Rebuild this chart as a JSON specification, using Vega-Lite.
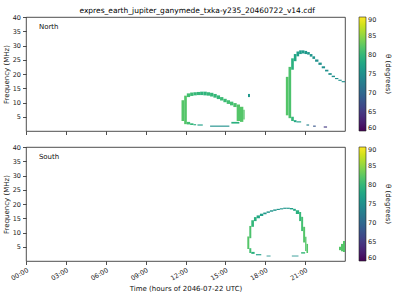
{
  "$schema": "https://vega.github.io/schema/vega-lite/v6.json",
  "padding": {"left": 1, "top": 7, "right": 0, "bottom": 0},
  "title": {"text": "expres_earth_jupiter_ganymede_txka-y235_20460722_v14.cdf", "fontSize": 7.5, "fontWeight": "normal", "font": "DejaVu Sans", "color": "#000", "offset": -1, "anchor": "middle"},
  "config": {
    "font": "DejaVu Sans",
    "view": {"stroke": "#222", "strokeWidth": 0.8},
    "axis": {"grid": false, "domain": false, "tickColor": "#222", "tickSize": 3.5, "tickWidth": 0.8, "labelFontSize": 6.5, "titleFontSize": 7, "labelColor": "#222", "titleColor": "#111", "titleFontWeight": "normal", "labelPadding": 2, "titlePadding": 3, "labelOverlap": false, "labelFlush": false, "labelBound": false},
    "legend": {"gradientLength": 114, "gradientThickness": 7, "labelFontSize": 6.5, "labelColor": "#222", "titleFontSize": 7, "titleFontWeight": "normal", "titleColor": "#111", "offset": 14, "titleOrient": "right", "titleAngle": 270, "titleAnchor": "middle", "titleBaseline": "bottom", "gradientStrokeColor": "#222", "gradientStrokeWidth": 0.6, "labelOverlap": false, "padding": 0, "titlePadding": 9}
  },
  "data": {"values": [
    {"p":"N","t1":11.7,"t2":11.9,"f1":3.5,"f2":10.8,"th":82},
    {"p":"N","t1":11.9,"t2":12.1,"f1":2.4,"f2":12.4,"th":82},
    {"p":"N","t1":12.1,"t2":12.35,"f1":11.9,"f2":13.2,"th":81},
    {"p":"N","t1":12.1,"t2":12.35,"f1":2.3,"f2":3.2,"th":81},
    {"p":"N","t1":12.35,"t2":12.6,"f1":12.3,"f2":13.5,"th":80.5},
    {"p":"N","t1":12.35,"t2":12.6,"f1":2.1,"f2":2.7,"th":80},
    {"p":"N","t1":12.6,"t2":12.85,"f1":12.5,"f2":13.6,"th":80},
    {"p":"N","t1":12.6,"t2":12.8,"f1":2.0,"f2":2.4,"th":79},
    {"p":"N","t1":12.85,"t2":13.1,"f1":12.6,"f2":13.7,"th":80},
    {"p":"N","t1":12.9,"t2":13.3,"f1":1.9,"f2":2.3,"th":77},
    {"p":"N","t1":13.1,"t2":13.35,"f1":12.6,"f2":13.8,"th":79.5},
    {"p":"N","t1":13.35,"t2":13.6,"f1":12.5,"f2":13.8,"th":79.5},
    {"p":"N","t1":13.6,"t2":13.85,"f1":12.4,"f2":13.6,"th":80},
    {"p":"N","t1":13.85,"t2":14.1,"f1":12.1,"f2":13.4,"th":80},
    {"p":"N","t1":13.85,"t2":15.3,"f1":1.5,"f2":1.9,"th":75},
    {"p":"N","t1":14.1,"t2":14.35,"f1":11.7,"f2":13.0,"th":80},
    {"p":"N","t1":14.35,"t2":14.6,"f1":11.2,"f2":12.5,"th":80},
    {"p":"N","t1":14.6,"t2":14.85,"f1":10.7,"f2":11.9,"th":80.5},
    {"p":"N","t1":14.85,"t2":15.1,"f1":10.1,"f2":11.3,"th":80.5},
    {"p":"N","t1":15.1,"t2":15.35,"f1":9.5,"f2":10.8,"th":81},
    {"p":"N","t1":15.35,"t2":15.6,"f1":9.0,"f2":10.3,"th":81},
    {"p":"N","t1":15.45,"t2":16.05,"f1":2.6,"f2":3.2,"th":79},
    {"p":"N","t1":15.6,"t2":15.85,"f1":8.4,"f2":9.8,"th":81.5},
    {"p":"N","t1":15.85,"t2":16.1,"f1":3.5,"f2":9.3,"th":82},
    {"p":"N","t1":16.1,"t2":16.35,"f1":3.2,"f2":8.5,"th":82},
    {"p":"N","t1":16.35,"t2":16.45,"f1":4.0,"f2":7.5,"th":82},
    {"p":"N","t1":16.7,"t2":16.85,"f1":11.9,"f2":13.0,"th":76},
    {"p":"N","t1":19.55,"t2":19.75,"f1":5.5,"f2":19.0,"th":82},
    {"p":"N","t1":19.75,"t2":19.95,"f1":4.5,"f2":22.5,"th":81.5},
    {"p":"N","t1":19.95,"t2":20.15,"f1":21.5,"f2":25.5,"th":79},
    {"p":"N","t1":19.95,"t2":20.15,"f1":3.5,"f2":5.0,"th":80},
    {"p":"N","t1":20.15,"t2":20.35,"f1":24.5,"f2":27.0,"th":78},
    {"p":"N","t1":20.15,"t2":20.35,"f1":3.1,"f2":3.8,"th":78},
    {"p":"N","t1":20.35,"t2":20.55,"f1":26.2,"f2":27.9,"th":77},
    {"p":"N","t1":20.35,"t2":20.7,"f1":3.0,"f2":3.4,"th":77},
    {"p":"N","t1":20.55,"t2":20.75,"f1":27.0,"f2":28.3,"th":76.5},
    {"p":"N","t1":20.75,"t2":20.95,"f1":27.2,"f2":28.3,"th":76.5},
    {"p":"N","t1":20.95,"t2":21.15,"f1":27.0,"f2":28.1,"th":76},
    {"p":"N","t1":21.1,"t2":21.3,"f1":1.9,"f2":2.3,"th":73},
    {"p":"N","t1":21.15,"t2":21.35,"f1":26.8,"f2":27.7,"th":76},
    {"p":"N","t1":21.35,"t2":21.55,"f1":26.1,"f2":27.0,"th":75.5},
    {"p":"N","t1":21.55,"t2":21.75,"f1":25.3,"f2":26.2,"th":75.5},
    {"p":"N","t1":21.6,"t2":21.8,"f1":1.5,"f2":1.9,"th":68},
    {"p":"N","t1":21.75,"t2":22.0,"f1":24.3,"f2":25.1,"th":75},
    {"p":"N","t1":22.0,"t2":22.25,"f1":23.2,"f2":24.0,"th":75},
    {"p":"N","t1":22.25,"t2":22.5,"f1":22.0,"f2":22.7,"th":75},
    {"p":"N","t1":22.4,"t2":22.65,"f1":1.2,"f2":1.6,"th":65},
    {"p":"N","t1":22.5,"t2":22.75,"f1":20.9,"f2":21.5,"th":75},
    {"p":"N","t1":22.75,"t2":23.0,"f1":19.7,"f2":20.3,"th":75},
    {"p":"N","t1":23.0,"t2":23.25,"f1":18.9,"f2":19.4,"th":75},
    {"p":"N","t1":23.25,"t2":23.5,"f1":18.2,"f2":18.6,"th":75},
    {"p":"N","t1":23.5,"t2":23.75,"f1":17.6,"f2":18.0,"th":75},
    {"p":"N","t1":23.75,"t2":24.0,"f1":17.1,"f2":17.5,"th":75},
    {"p":"S","t1":16.65,"t2":16.8,"f1":4.2,"f2":8.6,"th":82},
    {"p":"S","t1":16.8,"t2":16.95,"f1":8.0,"f2":12.3,"th":81.5},
    {"p":"S","t1":16.8,"t2":16.95,"f1":2.8,"f2":4.5,"th":81},
    {"p":"S","t1":16.95,"t2":17.15,"f1":12.0,"f2":14.3,"th":80},
    {"p":"S","t1":16.95,"t2":17.2,"f1":2.5,"f2":3.2,"th":79},
    {"p":"S","t1":17.15,"t2":17.35,"f1":14.0,"f2":15.4,"th":79},
    {"p":"S","t1":17.3,"t2":17.7,"f1":2.0,"f2":2.4,"th":77},
    {"p":"S","t1":17.35,"t2":17.6,"f1":15.0,"f2":16.0,"th":78},
    {"p":"S","t1":17.6,"t2":17.85,"f1":15.8,"f2":16.6,"th":77},
    {"p":"S","t1":17.85,"t2":18.1,"f1":16.4,"f2":17.0,"th":76},
    {"p":"S","t1":18.1,"t2":18.35,"f1":16.9,"f2":17.4,"th":75.5},
    {"p":"S","t1":18.1,"t2":18.4,"f1":1.6,"f2":1.9,"th":75},
    {"p":"S","t1":18.35,"t2":18.6,"f1":17.3,"f2":17.8,"th":75.5},
    {"p":"S","t1":18.6,"t2":18.85,"f1":17.6,"f2":18.1,"th":75.5},
    {"p":"S","t1":18.85,"t2":19.1,"f1":17.9,"f2":18.3,"th":75.5},
    {"p":"S","t1":19.1,"t2":19.35,"f1":18.1,"f2":18.5,"th":75.5},
    {"p":"S","t1":19.35,"t2":19.6,"f1":18.3,"f2":18.7,"th":75.5},
    {"p":"S","t1":19.6,"t2":19.85,"f1":18.3,"f2":18.7,"th":76},
    {"p":"S","t1":19.85,"t2":20.1,"f1":18.1,"f2":18.6,"th":77},
    {"p":"S","t1":20.0,"t2":20.5,"f1":1.6,"f2":1.9,"th":75},
    {"p":"S","t1":20.1,"t2":20.3,"f1":17.6,"f2":18.3,"th":78},
    {"p":"S","t1":20.3,"t2":20.55,"f1":16.5,"f2":17.8,"th":79},
    {"p":"S","t1":20.55,"t2":20.7,"f1":14.0,"f2":17.2,"th":80},
    {"p":"S","t1":20.7,"t2":20.85,"f1":10.5,"f2":15.5,"th":81},
    {"p":"S","t1":20.7,"t2":21.0,"f1":2.6,"f2":3.1,"th":80},
    {"p":"S","t1":20.85,"t2":21.0,"f1":6.5,"f2":12.0,"th":82},
    {"p":"S","t1":21.0,"t2":21.1,"f1":3.5,"f2":8.5,"th":82},
    {"p":"S","t1":21.1,"t2":21.22,"f1":2.8,"f2":6.0,"th":82},
    {"p":"S","t1":23.55,"t2":23.7,"f1":3.8,"f2":5.0,"th":82},
    {"p":"S","t1":23.7,"t2":23.85,"f1":3.4,"f2":6.0,"th":82},
    {"p":"S","t1":23.85,"t2":24.0,"f1":3.2,"f2":7.0,"th":82}
  ]},
  "resolve": {"scale": {"color": "independent"}},
  "spacing": 7,
  "vconcat": [
    {
      "width": 319, "height": 114,
      "encoding": {
        "x": {"type": "quantitative", "scale": {"domain": [0, 24], "nice": false, "zero": false}, "axis": {"values": [0,3,6,9,12,15,18,21], "labels": false, "title": null}},
        "y": {"type": "quantitative", "scale": {"domain": [0, 40], "nice": false}, "axis": {"values": [5,10,15,20,25,30,35,40], "title": "Frequency (MHz)"}}
      },
      "layer": [
        {
          "transform": [{"filter": "datum.p === 'N'"}],
          "mark": {"type": "rect"},
          "encoding": {
            "x": {"field": "t1", "type": "quantitative"},
            "x2": {"field": "t2"},
            "y": {"field": "f1", "type": "quantitative"},
            "y2": {"field": "f2"},
            "color": {"field": "th", "type": "quantitative", "scale": {"scheme": "viridis", "domain": [60, 90]}, "legend": {"title": "θ (degrees)", "values": [60,65,70,75,80,85,90]}}
          }
        },
        {
          "data": {"values": [{"label": "North", "lx": 0.97, "ly": 36.5}]},
          "mark": {"type": "text", "align": "left", "baseline": "middle", "fontSize": 7, "color": "#111"},
          "encoding": {"x": {"field": "lx", "type": "quantitative"}, "y": {"field": "ly", "type": "quantitative"}, "text": {"field": "label"}}
        }
      ]
    },
    {
      "width": 319, "height": 114,
      "encoding": {
        "x": {"type": "quantitative", "scale": {"domain": [0, 24], "nice": false, "zero": false}, "axis": {"values": [0,3,6,9,12,15,18,21], "labelExpr": "(datum.value < 10 ? '0' : '') + datum.value + ':00'", "labelAngle": -30, "labelAlign": "right", "labelBaseline": "top", "title": "Time (hours of 2046-07-22 UTC)"}},
        "y": {"type": "quantitative", "scale": {"domain": [0, 40], "nice": false}, "axis": {"values": [5,10,15,20,25,30,35,40], "title": "Frequency (MHz)"}}
      },
      "layer": [
        {
          "transform": [{"filter": "datum.p === 'S'"}],
          "mark": {"type": "rect"},
          "encoding": {
            "x": {"field": "t1", "type": "quantitative"},
            "x2": {"field": "t2"},
            "y": {"field": "f1", "type": "quantitative"},
            "y2": {"field": "f2"},
            "color": {"field": "th", "type": "quantitative", "scale": {"scheme": "viridis", "domain": [60, 90]}, "legend": {"title": "θ (degrees)", "values": [60,65,70,75,80,85,90]}}
          }
        },
        {
          "data": {"values": [{"label": "South", "lx": 0.97, "ly": 36.5}]},
          "mark": {"type": "text", "align": "left", "baseline": "middle", "fontSize": 7, "color": "#111"},
          "encoding": {"x": {"field": "lx", "type": "quantitative"}, "y": {"field": "ly", "type": "quantitative"}, "text": {"field": "label"}}
        }
      ]
    }
  ]
}
